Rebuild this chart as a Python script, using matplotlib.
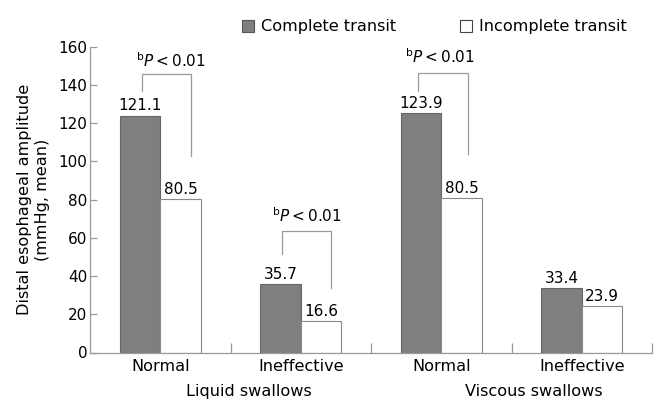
import matplotlib
matplotlib.use("Agg")
import matplotlib.pyplot as plt
from matplotlib.patches import Patch
import numpy as np

plt.rcParams['font.family'] = ['DejaVu Sans']
plt.rcParams['mathtext.fontset'] = 'dejavusans'

# ---- data ----
categories = ["Normal", "Ineffective", "Normal", "Ineffective"]
groups = ["Liquid swallows", "Viscous swallows"]
series = ["Complete transit", "Incomplete transit"]
complete_heights = [124.0, 35.9, 125.4, 33.5]      # drawn bar heights
incomplete_heights = [80.5, 16.5, 81.0, 24.1]
complete_labels = ["121.1", "35.7", "123.9", "33.4"]
incomplete_labels = ["80.5", "16.6", "80.5", "23.9"]
yticks = [0, 20, 40, 60, 80, 100, 120, 140, 160]
sig_text = r"$^{\mathrm{b}}\mathit{P} < 0.01$"

# ---- figure ----
fig = plt.figure(figsize=(6.54, 4.01), dpi=100)
ax = fig.add_axes([90/654, (401-352.5)/401, (652-90)/654, (352.5-46.7)/401])

x = np.arange(len(categories))
w = 0.288
gray = "#7f7f7f"
axis_col = "#9a9a9a"
fs_num = 11
fs_txt = 11.6

ax.bar(x - w/2, complete_heights, width=w, color=gray, edgecolor="#666666", linewidth=0.8)
ax.bar(x + w/2, incomplete_heights, width=w, color="white", edgecolor="#8a8a8a", linewidth=0.8)

for xi, h, lab in zip(x - w/2, complete_heights, complete_labels):
    ax.annotate(lab, (xi, h), xytext=(0, 1.5), textcoords="offset points",
                ha="center", va="bottom", fontsize=fs_num)
for xi, h, lab in zip(x + w/2, incomplete_heights, incomplete_labels):
    ax.annotate(lab, (xi, h), xytext=(0, 1.5), textcoords="offset points",
                ha="center", va="bottom", fontsize=fs_num)

# significance brackets: (x_left, x_right, y_left_bottom, y_top, y_right_bottom, text_x, text_y)
brackets = [
    (-0.130, 0.219, 136.9, 145.8, 103.0, 0.077, 149.5),
    (0.869, 1.215, 51.7, 63.5, 33.5, 1.044, 68.2),
    (1.837, 2.193, 136.9, 146.5, 103.9, 1.991, 151.7),
]
for xl, xr, yl, yt, yr, tx, ty in brackets:
    ax.plot([xl, xl, xr, xr], [yl, yt, yt, yr], color=axis_col, lw=0.9,
            solid_joinstyle="miter")
    ax.text(tx, ty, sig_text, ha="center", va="baseline", fontsize=fs_num)

ax.set_xlim(-0.5, 3.5)
ax.set_ylim(0, 160)
ax.set_yticks(yticks)
ax.set_xticks(x)
ax.set_xticklabels(categories, fontsize=fs_txt)
ax.set_xticks([0.5, 1.5, 2.5, 3.5], minor=True)
ax.tick_params(axis="x", which="major", length=0, pad=5)
ax.tick_params(axis="x", which="minor", direction="in", length=7, color=axis_col, width=0.9)
ax.tick_params(axis="y", direction="in", length=5, color=axis_col, width=0.9, pad=2, labelsize=fs_num)

for s in ["top", "right"]:
    ax.spines[s].set_visible(False)
for s in ["left", "bottom"]:
    ax.spines[s].set_color(axis_col)
    ax.spines[s].set_linewidth(0.9)

ax.set_ylabel("Distal esophageal amplitude\n(mmHg, mean)", fontsize=fs_txt, linespacing=1.2)
ax.yaxis.set_label_coords(-0.072, 0.5)

fig.text(249/654, (401-384)/401, groups[0], ha="center", va="top", fontsize=fs_txt)
fig.text(534/654, (401-384)/401, groups[1], ha="center", va="top", fontsize=fs_txt)

handles = [Patch(facecolor=gray, edgecolor="#555555", linewidth=0.8),
           Patch(facecolor="white", edgecolor="#444444", linewidth=0.8)]
fig.legend(handles, series, ncol=2, loc="center left",
           bbox_to_anchor=(242/654, (401-27)/401), frameon=False, fontsize=fs_txt,
           handlelength=0.75, handleheight=0.75, handletextpad=0.45,
           columnspacing=3.95, borderaxespad=0, borderpad=0)

fig.savefig("out.png", dpi=100)
